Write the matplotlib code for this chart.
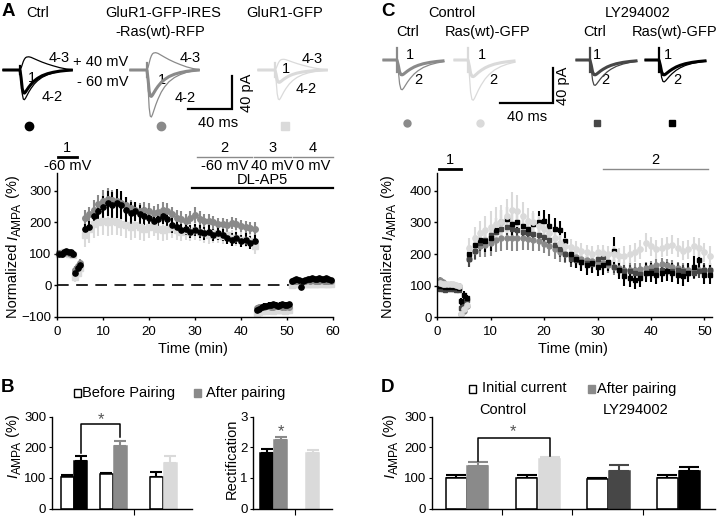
import numpy as np
import matplotlib
matplotlib.use("Agg")
import matplotlib.pyplot as plt
from matplotlib.transforms import blended_transform_factory as blend

plt.rcParams['font.family'] = ['Liberation Sans', 'DejaVu Sans']
plt.rcParams['axes.linewidth'] = 1.0

# ======================= DATA =======================
# ---- Panel A time course (min) ----
tA_base = [0.5, 1.0, 1.5, 2.0, 2.5, 3.0, 3.5]
tA_drop = [4.0, 4.5, 5.0]
tA_pot = list(range(6, 44))
tA_neg = [43.5 + 0.5 * i for i in range(15)]
tA_end = [51.0 + 0.5 * i for i in range(18)]
tA = tA_base + tA_drop + tA_pot + tA_neg + tA_end

a_ctrl = [100, 98, 104, 108, 106, 104, 100,
          40, 55, 65,
          180, 185, 220, 235, 250, 260, 255, 260, 255, 240, 230, 235, 225, 220, 215, 205, 210, 220, 210, 190,
          185, 175, 180, 170, 175, 170, 165, 170, 160, 165, 160, 150, 145, 150, 140, 145, 135, 140,
          -80, -75, -70, -66, -65, -62, -62, -60, -62, -65, -62, -60, -62, -62, -60,
          15, 18, 20, 18, -5, 15, 18, 20, 20, 22, 20, 20, 22, 20, 20, 22, 20, 18]
a_ctrl_err = [6, 6, 6, 6, 6, 6, 6,
              12, 12, 12,
              15, 20, 25, 30, 35, 40, 40, 45, 45, 40, 35, 30, 30, 30, 30, 25, 25, 25, 25, 25,
              20, 20, 20, 20, 20, 20, 20, 20, 20, 20, 20, 20, 20, 20, 20, 20, 20, 20,
              8, 8, 8, 8, 8, 8, 8, 8, 8, 8, 8, 8, 8, 8, 8,
              6, 6, 6, 6, 6, 6, 6, 6, 6, 6, 6, 6, 6, 6, 6, 6, 6, 6]
a_ras = [103, 100, 102, 104, 102, 100, 99,
         48, 60, 70,
         215, 225, 240, 258, 268, 275, 272, 268, 262, 255, 245, 240, 235, 240, 235, 228, 232, 240, 235, 225,
         215, 210, 205, 215, 222, 212, 205, 205, 200, 195, 195, 190, 198, 195, 188, 185, 182, 180,
         -72, -70, -70, -68, -66, -65, -68, -70, -66, -65, -66, -68, -68, -66, -68,
         12, 14, 15, 15, 12, 14, 15, 16, 15, 16, 15, 14, 15, 16, 15, 14, 15, 14]
a_ras_err = [6, 6, 6, 6, 6, 6, 6,
             12, 12, 12,
             25, 25, 30, 30, 35, 35, 30, 30, 30, 25, 25, 25, 25, 25, 25, 25, 25, 25, 25, 25,
             25, 25, 20, 20, 25, 25, 20, 20, 20, 20, 20, 20, 20, 20, 20, 20, 20, 20,
             8, 8, 8, 8, 8, 8, 8, 8, 8, 8, 8, 8, 8, 8, 8,
             6, 6, 6, 6, 6, 6, 6, 6, 6, 6, 6, 6, 6, 6, 6, 6, 6, 6]
a_gfp = [100, 103, 104, 103, 100, 98, 97,
         25, 40, 55,
         160, 180, 195, 200, 205, 200, 205, 200, 195, 190, 185, 190, 185, 180, 185, 190, 180, 175, 180, 185,
         175, 170, 175, 170, 175, 170, 165, 160, 165, 160, 155, 160, 150, 150, 145, 145, 140, 125,
         -88, -85, -82, -80, -82, -80, -80, -82, -80, -80, -78, -80, -82, -80, -80,
         2, 4, 5, 5, 3, 4, 5, 5, 4, 5, 5, 4, 5, 6, 5, 4, 5, 4]
a_gfp_err = [8, 8, 8, 8, 8, 8, 8,
             15, 15, 15,
             40, 45, 45, 45, 45, 45, 45, 40, 40, 40, 40, 40, 40, 40, 35, 35, 35, 35, 35, 35,
             30, 30, 30, 30, 30, 30, 30, 30, 30, 25, 25, 25, 25, 25, 25, 25, 25, 25,
             8, 8, 8, 8, 8, 8, 8, 8, 8, 8, 8, 8, 8, 8, 8,
             6, 6, 6, 6, 6, 6, 6, 6, 6, 6, 6, 6, 6, 6, 6, 6, 6, 6]

# ---- Panel C time course (min) ----
tC_base = [0.5, 1.0, 1.5, 2.0, 2.5, 3.0, 3.5, 4.0]
tC_drop = [4.5, 5.0, 5.5]
tC_pot = list(range(6, 52))
tC = tC_base + tC_drop + tC_pot

c_ctrl = [118, 112, 105, 102, 100, 102, 100, 98,
          10, 20, 35,
          185, 210, 225, 230, 235, 245, 250, 252, 250, 250, 252, 248, 245, 240, 232, 225, 215, 205, 200, 195,
          190, 185, 180, 178, 175, 170, 165, 160, 155, 150, 150, 150, 152, 155, 158, 165, 168, 165, 160, 155,
          150, 148, 150, 150, 148, 150]
c_ctrl_err = [8, 8, 8, 8, 8, 8, 8, 8,
              12, 12, 12,
              25, 30, 35, 40, 40, 40, 40, 40, 40, 40, 40, 35, 35, 30, 30, 30, 30, 30, 30, 25,
              25, 25, 25, 25, 25, 25, 25, 25, 25, 25, 25, 20, 20, 20, 20, 20, 20, 20, 20, 20,
              20, 20, 20, 20, 20, 20]
c_ras = [108, 106, 105, 104, 106, 104, 103, 100,
         12, 25, 40,
         220, 250, 265, 275, 285, 295, 300, 320, 340, 335, 320, 305, 300, 290, 280, 265, 250, 235, 225, 222,
         215, 210, 205, 200, 205, 203, 200, 200, 195, 195, 200, 205, 215, 235, 225, 215, 220, 225, 230, 220,
         210, 215, 225, 220, 205, 195]
c_ras_err = [8, 8, 8, 8, 8, 8, 8, 8,
             12, 12, 12,
             30, 35, 40, 45, 50, 55, 55, 55, 55, 50, 45, 40, 35, 30, 30, 30, 25, 25, 25, 25,
             25, 25, 25, 25, 25, 25, 25, 25, 25, 30, 30, 30, 30, 30, 30, 30, 30, 30, 30, 30,
             30, 30, 30, 30, 30, 30]
c_ly = [90, 88, 86, 88, 90, 88, 86, 85,
        30, 45, 55,
        185, 210, 235, 245, 260, 270, 280, 285, 280, 275, 270, 265, 262, 260, 255, 245, 230, 215, 200, 185,
        180, 175, 170, 168, 185, 190, 170, 160, 150, 145, 145, 140, 138, 140, 145, 150, 148, 145, 145, 150,
        145, 140, 140, 145, 150, 150]
c_ly_err = [8, 8, 8, 8, 8, 8, 8, 8,
            12, 12, 12,
            25, 25, 25, 25, 25, 25, 25, 25, 25, 25, 25, 25, 25, 25, 25, 25, 25, 25, 25, 25,
            25, 25, 25, 25, 25, 25, 20, 20, 20, 20, 20, 20, 20, 20, 20, 20, 20, 20, 20, 20,
            20, 20, 20, 20, 20, 20]
c_lyras = [100, 98, 96, 97, 98, 96, 95, 92,
           50, 70, 60,
           200, 230, 245, 240, 250, 275, 300, 310, 295, 300, 290, 280, 295, 300, 305, 290, 280, 275, 240, 200,
           185, 175, 165, 170, 160, 165, 175, 210, 150, 130, 125, 118, 125, 140, 140, 135, 140, 145, 140, 135,
           130, 140, 160, 180, 135, 135]
c_lyras_err = [8, 8, 8, 8, 8, 8, 8, 8,
               12, 12, 12,
               30, 30, 30, 35, 40, 40, 40, 40, 35, 35, 35, 35, 35, 35, 35, 35, 35, 30, 30, 30,
               30, 30, 30, 30, 30, 30, 30, 45, 30, 30, 30, 30, 30, 30, 30, 30, 30, 30, 30, 30,
               30, 30, 35, 40, 30, 30]

# ---- Panel B bars ----
b_means = [104, 155, 114, 204, 104, 149.5]
b_errs = [7, 17, 2, 17, 14, 22]
rect_means = [1.82, 2.25, 1.82]
rect_errs = [0.13, 0.08, 0.11]
# ---- Panel D bars ----
d_means = [101, 139, 101, 161, 95, 123, 101, 123]
d_errs = [8, 14, 8, 7, 5, 18, 8, 11]

# ---- Example traces (normalised EPSC shape, ms) ----
epsc_t = [0, 1, 2, 3, 4, 5, 6, 8, 10, 13, 16, 20, 25, 30, 36, 42, 48]
epsc_in = [0, -0.35, -0.8, -0.98, -1.0, -0.95, -0.88, -0.74, -0.62, -0.47, -0.36, -0.25, -0.16, -0.10,
           -0.05, -0.02, 0]
epsc_out = [0, 0.15, 0.4, 0.65, 0.82, 0.93, 0.98, 1.0, 0.96, 0.85, 0.74, 0.6, 0.45, 0.32, 0.18, 0.08, 0.02]
# peak amplitudes (pA)
A_amp_43 = [16, 21, 13]
A_amp_1 = [-28, -32, -15]
A_amp_42 = [-36, -57, -36]
C_amp_1 = [-17, -19, -17, -17]
C_amp_2 = [-34, -46, -29, -25]

# ======================= STYLE =======================
BLACK = '#000000'
MID = '#8a8a8a'
LIGHT = '#dadada'
DARK = '#474747'
FS = 10.5
TFS = 9.5

W, H = 720, 516
fig = plt.figure(figsize=(W / 100, H / 100), dpi=100)
renderer = fig.canvas.get_renderer()


def rect(x0, y0, x1, y1):
    return [x0 / W, 1 - y1 / H, (x1 - x0) / W, (y1 - y0) / H]


ov = fig.add_axes([0, 0, 1, 1], zorder=-5)
ov.set_xlim(0, W)
ov.set_ylim(H, 0)
ov.axis('off')


def txt(x, y, s, **kw):
    kw.setdefault('fontsize', FS)
    kw.setdefault('ha', 'center')
    kw.setdefault('va', 'center')
    return ov.text(x, y, s, **kw)


def vlabel(xc, yc, pieces, fs=FS):
    """Rotated label built from pieces (text, size factor, style, baseline shift px)."""
    base_x = xc + 0.36 * fs * 100 / 72
    objs = []
    for s, f, st, dx in pieces:
        t = ov.text(0, 0, s, fontsize=fs * f, fontstyle=st, rotation=90, rotation_mode='anchor',
                    ha='left', va='baseline')
        objs.append((t, dx))
    lens = [t.get_window_extent(renderer).height for t, _ in objs]
    y = yc + sum(lens) / 2
    for (t, dx), L in zip(objs, lens):
        t.set_position((base_x + dx, y))
        y -= L


# panel letters
for x, y, s in [(8, 12, 'A'), (8, 388, 'B'), (388, 11, 'C'), (388, 388, 'D')]:
    txt(x, y, s, fontsize=13.5, fontweight='bold')

norm_lab = [('Normalized ', 1.0, 'normal', 0), ('I', 1.0, 'italic', 0), ('AMPA', 0.82, 'normal', 3.5),
            (' (%)', 1.0, 'normal', 0)]
iampa_lab = [('I', 1.0, 'italic', 0), ('AMPA', 0.82, 'normal', 3.5), (' (%)', 1.0, 'normal', 0)]


def style_tc(ax):
    for s in ['top', 'right']:
        ax.spines[s].set_visible(False)
    ax.tick_params(axis='both', labelsize=TFS, direction='out', length=2.5, width=1.0)
    ax.tick_params(axis='x', pad=4)
    ax.tick_params(axis='y', pad=1.5)
    ax.patch.set_alpha(0)


def tc(ax, t, v, e, color, marker, ms):
    ax.errorbar(t, v, yerr=e, fmt=marker, ms=ms, color=color, mec=color, mfc=color, ecolor=color,
                elinewidth=1.5, capsize=0, clip_on=False)


# ---------------- Panel A time course ----------------
axA = fig.add_axes(rect(57, 173.5, 333, 316.7))
axA.set_xlim(0, 60)
axA.set_ylim(-100, 355)
axA.set_xticks([0, 10, 20, 30, 40, 50, 60])
axA.set_yticks([-100, 0, 100, 200, 300])
style_tc(axA)
axA.plot([0, 51], [0, 0], color='black', lw=1.2, dashes=(7, 4.5), zorder=1)
tc(axA, tA, a_gfp, a_gfp_err, LIGHT, 's', 3.8)
tc(axA, tA, a_ras, a_ras_err, MID, 'o', 4.0)
tc(axA, tA, a_ctrl, a_ctrl_err, BLACK, 'o', 3.8)
vlabel(12, 247, norm_lab)
txt(193, 349, 'Time (min)')

trA = blend(axA.transData, ov.transData)
epA_start = [0.2, 30.4, 42.8, 51.3]
epA_end = [4.3, 42.4, 50.9, 60.0]
epA_num = ['1', '2', '3', '4']
epA_mv = ['-60 mV', '-60 mV', '40 mV', '0 mV']
for i in range(4):
    col = BLACK if i == 0 else MID
    lw = 2.0 if i == 0 else 1.0
    ov.plot([epA_start[i], epA_end[i]], [156.5, 156.5], color=col, lw=lw, transform=trA, clip_on=False)
    xm = (epA_start[i] + epA_end[i]) / 2
    ov.text(xm, 148, epA_num[i], fontsize=FS, ha='center', va='center', transform=trA)
    ov.text(xm, 165.5, epA_mv[i], fontsize=FS, ha='center', va='center', transform=trA)
apA = [29.3, 60.0]
ov.plot(apA, [187.7, 187.7], color=BLACK, lw=1.6, transform=trA, clip_on=False)
ov.text(sum(apA) / 2, 180, 'DL-AP5', fontsize=FS, ha='center', va='center', transform=trA)

# ---------------- Panel C time course ----------------
axC = fig.add_axes(rect(437.3, 173.3, 711.8, 317.3))
axC.set_xlim(0, 51.4)
axC.set_ylim(0, 455)
axC.set_xticks([0, 10, 20, 30, 40, 50])
axC.set_yticks([0, 100, 200, 300, 400])
style_tc(axC)
tc(axC, tC, c_ctrl, c_ctrl_err, MID, 'o', 3.6)
tc(axC, tC, c_ly, c_ly_err, DARK, 's', 3.4)
tc(axC, tC, c_lyras, c_lyras_err, BLACK, 's', 3.4)
tc(axC, tC, c_ras, c_ras_err, LIGHT, 'o', 3.8)
vlabel(387, 247, norm_lab)
txt(573, 349, 'Time (min)')

trC = blend(axC.transData, ov.transData)
epC_start = [0.3, 31.1]
epC_end = [4.5, 50.7]
epC_num = ['1', '2']
for i in range(2):
    col = BLACK if i == 0 else MID
    lw = 2.0 if i == 0 else 1.0
    ov.plot([epC_start[i], epC_end[i]], [168.8, 168.8], color=col, lw=lw, transform=trC, clip_on=False)
    ov.text((epC_start[i] + epC_end[i]) / 2, 160, epC_num[i], fontsize=FS, ha='center', va='center',
            transform=trC)


# ---------------- Traces ----------------
def draw_trace(ax, t0, amp, tv, color, lw, pre, tmax):
    t = [t0 - pre] + [t0 + x for x in epsc_t if x <= tmax]
    v = [0] + [amp * y for x, y in zip(epsc_t, tv) if x <= tmax]
    ax.plot(t, v, color=color, lw=lw, solid_capstyle='butt', solid_joinstyle='round')


# Panel A traces: 1.1 px/ms, 0.825 px/pA, baseline at y=70
trA_ax = fig.add_axes(rect(0, 40, 360, 120))
trA_ax.set_xlim(0, 360 / 1.1)
trA_ax.set_ylim(-(120 - 70) / 0.825, (70 - 40) / 0.825)
trA_ax.axis('off')
A_t0 = [18.2, 133.6, 250.0]
A_cols = [BLACK, MID, LIGHT]
A_art = [5, 8.5, 8.5]
for i in range(3):
    draw_trace(trA_ax, A_t0[i], A_amp_43[i], epsc_out, A_cols[i], 0.9, 16, 48)
    draw_trace(trA_ax, A_t0[i], abs(A_amp_42[i]), epsc_in, A_cols[i], 0.9, 16, 48)
    draw_trace(trA_ax, A_t0[i], abs(A_amp_1[i]), epsc_in, A_cols[i], 2.2, 16, 48)
    trA_ax.plot([A_t0[i], A_t0[i]], [-A_art[i], A_art[i]], color=A_cols[i], lw=1.6)
# scale bar A
trA_ax.plot([210.9 - 40, 210.9, 210.9], [-47.3, -47.3, -47.3 + 40], color=BLACK, lw=1.6,
            solid_joinstyle='miter')
txt(218, 123, '40 ms')
txt(247, 93, '40 pA', rotation=90)

# A labels
A_title = [(38, 13, 'Ctrl'), (163, 13, 'GluR1-GFP-IRES'), (160, 32, '-Ras(wt)-RFP'), (285, 13, 'GluR1-GFP')]
for x, y, s in A_title:
    txt(x, y, s)
A_lbl = [(59, 58, '4-3'), (32, 78, '1'), (52, 97, '4-2'),
         (190, 58, '4-3'), (162, 80, '1'), (185, 98, '4-2'),
         (312, 59, '4-3'), (286, 69, '1'), (306, 89, '4-2')]
for x, y, s in A_lbl:
    txt(x, y, s)
txt(73, 61.5, '+ 40 mV', ha='left')
txt(77, 82, '- 60 mV', ha='left')
ov.plot([29], [126], 'o', color=BLACK, ms=6)
ov.plot([161], [126], 'o', color=MID, ms=6)
ov.plot([285], [126], 's', color=LIGHT, ms=5.5)

# Panel C traces: 1.32 px/ms, 0.875 px/pA, baseline y=60
trC_ax = fig.add_axes(rect(360, 40, 720, 120))
trC_ax.set_xlim(0, 360 / 1.32)
trC_ax.set_ylim(-(120 - 60) / 0.875, (60 - 40) / 0.875)
trC_ax.axis('off')
C_t0 = [28.0, 81.8, 174.2, 226.5]
C_cols = [MID, LIGHT, DARK, BLACK]
for i in range(4):
    draw_trace(trC_ax, C_t0[i], abs(C_amp_2[i]), epsc_in, C_cols[i], 0.9, 11, 40)
    draw_trace(trC_ax, C_t0[i], abs(C_amp_1[i]), epsc_in, C_cols[i], 2.2, 11, 40)
    trC_ax.plot([C_t0[i], C_t0[i]], [-14, 14], color=C_cols[i], lw=1.6)
trC_ax.plot([146 - 40, 146, 146], [-49.1, -49.1, -49.1 + 40], color=BLACK, lw=1.6,
            solid_joinstyle='miter')
txt(527, 117, '40 ms')
txt(563, 86, '40 pA', rotation=90)
C_title = [(452, 13, 'Control'), (638, 13, 'LY294002'), (408, 32, 'Ctrl'), (488, 32, 'Ras(wt)-GFP'),
           (595, 32, 'Ctrl'), (675, 32, 'Ras(wt)-GFP')]
for x, y, s in C_title:
    txt(x, y, s)
C_lbl = [(410, 55, '1'), (418, 80, '2'), (482, 55, '1'), (493, 80, '2'),
         (597, 55, '1'), (605, 80, '2'), (668, 55, '1'), (677, 80, '2')]
for x, y, s in C_lbl:
    txt(x, y, s)
ov.plot([407], [123], 'o', color=MID, ms=5)
ov.plot([480], [123], 'o', color=LIGHT, ms=5)
ov.plot([597], [123], 's', color=DARK, ms=4.5)
ov.plot([672], [123], 's', color=BLACK, ms=4.5)


# ---------------- Bars ----------------
def style_bar(ax):
    for s in ['top', 'right']:
        ax.spines[s].set_visible(False)
    ax.tick_params(axis='y', labelsize=TFS, direction='out', length=2.5, pad=1.5)
    ax.tick_params(axis='x', direction='out', length=4, labelbottom=False)
    ax.patch.set_alpha(0)


def bars(ax, xs, means, errs, fills, w, cap):
    for x, m, e, f in zip(xs, means, errs, fills):
        edge = BLACK if f == 'white' else f
        ax.bar(x, m, width=w, color=f, edgecolor=edge, linewidth=1.1, zorder=2)
        ecol = BLACK if f == 'white' else f
        ax.errorbar([x], [m], yerr=[[0], [e]], fmt='none', ecolor=ecol, elinewidth=1.5, capsize=cap,
                    capthick=1.5, zorder=1)


BAR_BOTTOM = 508.5
# B left
axB = fig.add_axes(rect(51.7, BAR_BOTTOM - 91.7, 191.7, BAR_BOTTOM))
axB.set_xlim(0, 140)
axB.set_ylim(0, 300)
axB.set_yticks([0, 100, 200, 300])
axB.set_xticks([82.6])
style_bar(axB)
bars(axB, [15.3, 29.1, 54.6, 68.5, 104.3, 118.6], b_means, b_errs,
     ['white', BLACK, 'white', MID, 'white', LIGHT], 13.0, 4.5)
axB.plot([29.1, 29.1, 68.5, 68.5], [180, 275, 275, 235], color=BLACK, lw=1.1, clip_on=False)
axB.text(48.8, 290, '*', ha='center', va='center', fontsize=12, color='#555555')
vlabel(12, 446, iampa_lab)

# B right (rectification)
axR = fig.add_axes(rect(253.3, BAR_BOTTOM - 91.7, 331.7, BAR_BOTTOM))
axR.set_xlim(0, 78.4)
axR.set_ylim(0, 3)
axR.set_yticks([0, 1, 2, 3])
axR.set_xticks([41.7])
style_bar(axR)
bars(axR, [13.4, 27.4, 59.2], rect_means, rect_errs, [BLACK, MID, LIGHT], 13.3, 4.5)
axR.text(27.4, 2.52, '*', ha='center', va='center', fontsize=12, color='#555555')
txt(232, 459, 'Rectification', rotation=90)

# B legend
ov.add_patch(plt.Rectangle((73.5, 388.5), 7, 8, facecolor='white', edgecolor=BLACK, lw=1.0))
txt(82.5, 392.5, 'Before Pairing', ha='left')
ov.add_patch(plt.Rectangle((193.5, 388.5), 7, 8, facecolor=MID, edgecolor=MID, lw=1.0))
txt(206, 392.5, 'After pairing', ha='left')

# D
axD = fig.add_axes(rect(431.7, BAR_BOTTOM - 92, 715, BAR_BOTTOM))
axD.set_xlim(0, 283.3)
axD.set_ylim(0, 300)
axD.set_yticks([0, 100, 200, 300])
axD.set_xticks([70, 140, 211])
style_bar(axD)
bars(axD, [24.3, 45.8, 95.0, 117.8, 165.3, 187.5, 235.6, 257.5], d_means, d_errs,
     ['white', MID, 'white', LIGHT, 'white', DARK, 'white', BLACK], 21.0, 7.0)
axD.plot([45.8, 45.8, 117.8, 117.8], [155, 229, 229, 172], color=BLACK, lw=1.1, clip_on=False)
axD.text(81.6, 250, '*', ha='center', va='center', fontsize=12, color='#555555')
vlabel(389, 446, iampa_lab)
txt(502.5, 410, 'Control')
txt(636, 410, 'LY294002')
ov.add_patch(plt.Rectangle((468.5, 384.5), 7, 8, facecolor='white', edgecolor=BLACK, lw=1.0))
txt(482, 388.5, 'Initial current', ha='left')
ov.add_patch(plt.Rectangle((588, 384.5), 7, 8, facecolor=MID, edgecolor=MID, lw=1.0))
txt(597, 388.5, 'After pairing', ha='left')

fig.savefig('out.png', dpi=100)
